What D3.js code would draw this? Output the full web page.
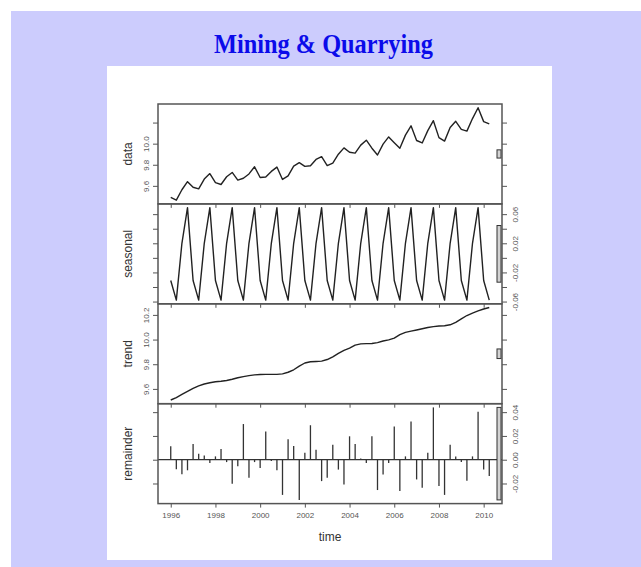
<!DOCTYPE html>
<html>
<head>
<meta charset="utf-8">
<script src="https://cdn.jsdelivr.net/npm/d3@7"></script>
<style>
	html, body { margin: 0; padding: 0; background: #fff; }
	svg { display: block; }
</style>
</head>
<body>
<div id="chart"></div>
<script>
/* global d3 */

// quarterly, 1996 Q1 to 2010 Q2
const startYear = 1996
const xTicks = [1996, 1998, 2000, 2002, 2004, 2006, 2008, 2010]

const dataValues = [
	9.490, 9.464, 9.563, 9.640, 9.587, 9.572, 9.664, 9.716,
	9.630, 9.613, 9.686, 9.727, 9.654, 9.672, 9.713, 9.781,
	9.679, 9.684, 9.737, 9.778, 9.661, 9.694, 9.787, 9.820,
	9.785, 9.791, 9.850, 9.876, 9.792, 9.815, 9.900, 9.960,
	9.919, 9.910, 9.986, 10.033, 9.957, 9.892, 9.996, 10.064,
	10.009, 9.956, 10.081, 10.169, 10.030, 10.007, 10.124, 10.218,
	10.057, 10.024, 10.153, 10.212, 10.135, 10.119, 10.238, 10.341,
	10.209, 10.188
]

const seasonalValues = [
	-0.031, -0.058, 0.020, 0.069, -0.031, -0.058, 0.020, 0.069,
	-0.031, -0.058, 0.020, 0.069, -0.031, -0.058, 0.020, 0.069,
	-0.031, -0.058, 0.020, 0.069, -0.031, -0.058, 0.020, 0.069,
	-0.031, -0.058, 0.020, 0.069, -0.031, -0.058, 0.020, 0.069,
	-0.031, -0.058, 0.020, 0.069, -0.031, -0.058, 0.020, 0.069,
	-0.031, -0.058, 0.020, 0.069, -0.031, -0.058, 0.020, 0.069,
	-0.031, -0.058, 0.020, 0.069, -0.031, -0.058, 0.020, 0.069,
	-0.031, -0.058
]

const trendValues = [
	9.510, 9.530, 9.555, 9.580, 9.605, 9.625, 9.640, 9.650,
	9.658, 9.662, 9.668, 9.678, 9.690, 9.700, 9.708, 9.714,
	9.717, 9.718, 9.718, 9.718, 9.722, 9.735, 9.755, 9.785,
	9.810, 9.820, 9.822, 9.825, 9.838, 9.860, 9.888, 9.912,
	9.930, 9.955, 9.965, 9.967, 9.968, 9.975, 9.988, 9.998,
	10.012, 10.040, 10.058, 10.068, 10.078, 10.088, 10.098, 10.105,
	10.110, 10.112, 10.120, 10.140, 10.168, 10.195, 10.215, 10.232,
	10.248, 10.260
]

const remainderValues = [
	0.0113, -0.0080, -0.0122, -0.0089, 0.0133, 0.0050, 0.0036, -0.0028,
	0.0028, 0.0091, -0.0020, -0.0202, -0.0055, 0.0300, -0.0152, -0.0020,
	-0.0069, 0.0238, -0.0010, -0.0089, -0.0296, 0.0172, 0.0116, -0.0338,
	0.0058, 0.0290, 0.0083, -0.0180, -0.0152, 0.0125, -0.0083, -0.0208,
	0.0197, 0.0133, 0.0011, -0.0028, 0.0197, -0.0255, -0.0125, -0.0028,
	0.0280, -0.0263, 0.0028, 0.0321, -0.0166, -0.0235, 0.0058, 0.0440,
	-0.0222, -0.0296, 0.0125, 0.0028, -0.0020, -0.0177, 0.0028, 0.0404,
	-0.0083, -0.0136
]

const panelNames = ['data', 'seasonal', 'trend', 'remainder']
const panelTicks = [
	[9.6, 9.8, 10.0, 10.2],
	[-0.06, -0.04, -0.02, 0, 0.02, 0.04, 0.06],
	[9.6, 9.8, 10.0, 10.2],
	[-0.02, 0, 0.02, 0.04]
]
// R drops the labels that would overlap, so only these are written
const panelTickLabels = [
	['9.6', '9.8', '10.0', ''],
	['-0.06', '', '-0.02', '', '0.02', '', '0.06'],
	['9.6', '9.8', '10.0', '10.2'],
	['-0.02', '0.00', '0.02', '0.04']
]

const chart = {
	width: 641,
	height: 567,
	left: 158,
	right: 502,
	top: 104,
	panelHeight: 99.9,

	draw(element) {
		const svg = d3
			.select(`#${element}`)
			.append('svg')
			.attr('width', this.width)
			.attr('height', this.height)
			.style('font-family', 'Liberation Sans, Arial, sans-serif')

		// page background and the white picture
		svg.append('rect').attr('width', this.width).attr('height', this.height).attr('fill', '#fff')
		svg.append('rect').attr('x', 11).attr('y', 11).attr('width', this.width - 11).attr('height', this.height - 11).attr('fill', '#ccccfd')
		svg.append('rect').attr('x', 107).attr('y', 66).attr('width', 445).attr('height', 494).attr('fill', '#fff')

		svg
			.append('text')
			.attr('x', 323.5)
			.attr('y', 53)
			.attr('text-anchor', 'middle')
			.attr('textLength', 219)
			.attr('lengthAdjust', 'spacingAndGlyphs')
			.style('font-family', 'Liberation Serif, Times New Roman, serif')
			.style('font-weight', 'bold')
			.style('font-size', '28px')
			.attr('fill', '#0b0bea')
			.text('Mining & Quarrying')

		const n = dataValues.length
		const times = d3.range(n).map(i => startYear + i / 4)

		// R pads every axis by 4% of the range
		const padded = ext => {
			const pad = (ext[1] - ext[0]) * 0.04
			return [ext[0] - pad, ext[1] + pad]
		}

		const x = d3
			.scaleLinear()
			.domain(padded(d3.extent(times)))
			.range([this.left, this.right])

		const series = [dataValues, seasonalValues, trendValues, remainderValues]
		const rangeBar = d3.max(remainderValues) - d3.min(remainderValues)

		series.forEach((values, k) => {
			const top = this.top + k * this.panelHeight
			const bottom = top + this.panelHeight
			const ext = d3.extent(values)
			const y = d3
				.scaleLinear()
				.domain(padded(ext))
				.range([bottom, top])

			const g = svg.append('g').classed('panel', true)

			if (k < 3) {
				const line = d3
					.line()
					.x((d, i) => x(times[i]))
					.y(d => y(d))
				g
					.append('path')
					.datum(values)
					.attr('d', line)
					.attr('fill', 'none')
					.attr('stroke', '#222')
					.attr('stroke-width', 1.4)
					.attr('stroke-linejoin', 'round')
			} else {
				g
					.append('line')
					.attr('x1', this.left)
					.attr('x2', this.right)
					.attr('y1', y(0))
					.attr('y2', y(0))
					.attr('stroke', '#333')
					.attr('stroke-width', 1.3)
				g
					.selectAll('line.bar')
					.data(values)
					.enter()
					.append('line')
					.classed('bar', true)
					.attr('x1', (d, i) => x(times[i]))
					.attr('x2', (d, i) => x(times[i]))
					.attr('y1', y(0))
					.attr('y2', d => y(d))
					.attr('stroke', '#333')
					.attr('stroke-width', 1.3)
			}

			// grey bar showing the remainder range on this panel's scale
			const mid = (ext[0] + ext[1]) / 2
			g
				.append('rect')
				.attr('x', 497)
				.attr('y', y(mid + rangeBar / 2))
				.attr('width', 4)
				.attr('height', y(mid - rangeBar / 2) - y(mid + rangeBar / 2))
				.attr('fill', '#d3d3d3')
				.attr('stroke', '#333')
				.attr('stroke-width', 1)

			g
				.append('rect')
				.attr('x', this.left)
				.attr('y', top)
				.attr('width', this.right - this.left)
				.attr('height', this.panelHeight)
				.attr('fill', 'none')
				.attr('stroke', '#555')
				.attr('stroke-width', 1.5)

			// ticks on both sides, labels alternate left / right
			const labelRight = k % 2 === 1
			const yAxisLeft = d3
				.axisLeft(y)
				.tickValues(panelTicks[k])
				.tickSize(5)
				.tickFormat((d, i) => (labelRight ? '' : panelTickLabels[k][i]))
			const yAxisRight = d3
				.axisRight(y)
				.tickValues(panelTicks[k])
				.tickSize(5)
				.tickFormat((d, i) => (labelRight ? panelTickLabels[k][i] : ''))

			const axL = g.append('g').attr('transform', `translate(${this.left},0)`).call(yAxisLeft)
			const axR = g.append('g').attr('transform', `translate(${this.right},0)`).call(yAxisRight)

			;[axL, axR].forEach(ax => {
				ax.select('.domain').remove()
				ax.selectAll('line').attr('stroke', '#555')
				ax
					.selectAll('text')
					.attr('x', null)
					.attr('dy', null)
					.attr('text-anchor', 'middle')
					.attr('fill', '#555')
					.style('font-size', '8px')
					.style('font-family', 'Liberation Sans, Arial, sans-serif')
			})
			axL.selectAll('text').attr('transform', 'translate(-12,0) rotate(-90)').attr('dy', '0.35em')
			axR.selectAll('text').attr('transform', 'translate(13,0) rotate(-90)').attr('dy', '0.35em')

			const xAxis = d3
				.axisBottom(x)
				.tickValues(xTicks)
				.tickSize(4)
				.tickFormat(d => (k === 3 ? d : ''))
			const axB = g.append('g').attr('transform', `translate(0,${bottom})`).call(xAxis)
			axB.select('.domain').remove()
			axB.selectAll('line').attr('stroke', '#555')
			axB
				.selectAll('text')
				.attr('y', 9)
				.attr('fill', '#555')
				.style('font-size', '8px')
				.style('font-family', 'Liberation Sans, Arial, sans-serif')

			svg
				.append('text')
				.attr('transform', `translate(128,${(top + bottom) / 2}) rotate(-90)`)
				.attr('text-anchor', 'middle')
				.attr('dy', '0.35em')
				.attr('fill', '#333')
				.style('font-size', '12px')
				.text(panelNames[k])
		})

		svg
			.append('text')
			.attr('x', (this.left + this.right) / 2)
			.attr('y', 541)
			.attr('text-anchor', 'middle')
			.attr('fill', '#333')
			.style('font-size', '12px')
			.text('time')
	}
}

chart.draw('chart')
</script>
</body>
</html>
